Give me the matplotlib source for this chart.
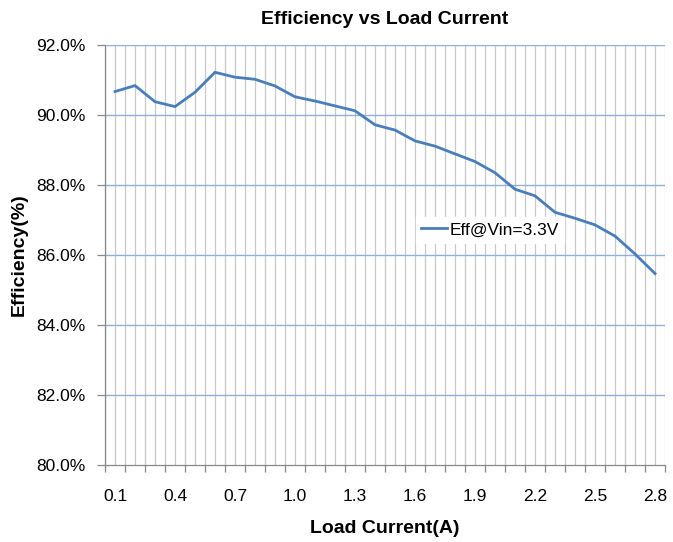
import matplotlib
matplotlib.use('Agg')
import matplotlib.pyplot as plt
import numpy as np

# load current (A) and measured efficiency (%)
load_current = [0.1, 0.2, 0.3, 0.4, 0.5, 0.6, 0.7, 0.8, 0.9, 1.0,
                1.1, 1.2, 1.3, 1.4, 1.5, 1.6, 1.7, 1.8, 1.9, 2.0,
                2.1, 2.2, 2.3, 2.4, 2.5, 2.6, 2.7, 2.8]
efficiency = [90.67, 90.84, 90.38, 90.24, 90.65, 91.22, 91.08, 91.02, 90.83, 90.52,
              90.40, 90.26, 90.12, 89.72, 89.57, 89.26, 89.11, 88.89, 88.67, 88.35,
              87.88, 87.69, 87.22, 87.05, 86.86, 86.54, 86.03, 85.47]
series_name = 'Eff@Vin=3.3V'
y_ticks = [80, 82, 84, 86, 88, 90, 92]

plt.rcParams['font.family'] = ['Liberation Sans', 'DejaVu Sans']

fig = plt.figure(figsize=(6.73, 5.42), dpi=100)
ax = fig.add_axes([105/673, 1-465/542, 560/673, 420/542])

ind = np.arange(len(load_current))

# excel-like grid: vertical lines at every half category
for g in np.arange(-0.5, len(ind), 0.5):
    ax.axvline(g, color='#c8c8c8', lw=0.9, zorder=0)
for t in y_ticks[1:]:
    ax.axhline(t, color='#8eb0d8', lw=1.0, zorder=1)

ax.plot(ind, efficiency, color='#4a7ebb', lw=2.0, label=series_name, zorder=3)

ax.set_xlim(-0.5, len(ind) - 0.5)
ax.set_ylim(80, 92)

ax.set_yticks(y_ticks)
ax.set_yticklabels(['{:.1f}%'.format(v) for v in y_ticks])
ax.set_xticks(ind[::3])
ax.set_xticklabels(['{:.1f}'.format(load_current[i]) for i in ind[::3]])
ax.set_xticks(np.arange(-0.5, len(ind), 1), minor=True)
ax.tick_params(axis='x', which='major', length=0, pad=17, labelsize=12.5, colors='#000000')
ax.tick_params(axis='x', which='minor', length=5, color='#888888', width=0.9)
ax.tick_params(axis='y', length=6, color='#888888', width=0.9, pad=8, labelsize=12.5)

for s in ['top', 'right']:
    ax.spines[s].set_visible(False)
for s in ['left', 'bottom']:
    ax.spines[s].set_color('#888888')
    ax.spines[s].set_linewidth(0.9)

ax.set_title('Efficiency vs Load Current', fontsize=14, fontweight='bold', pad=15)
ax.set_xlabel('Load Current(A)', fontsize=14, fontweight='bold', labelpad=12)
ax.set_ylabel('Efficiency(%)', fontsize=14, fontweight='bold', labelpad=6)

leg = ax.legend(loc='center left', bbox_to_anchor=(0.555, 0.56), frameon=True,
                fontsize=12.5, handlelength=1.5, handletextpad=0.15,
                borderpad=0.3, fancybox=False, borderaxespad=0)
leg.get_frame().set_edgecolor('white')
leg.get_frame().set_alpha(1.0)

fig.savefig('out.png', dpi=100)
